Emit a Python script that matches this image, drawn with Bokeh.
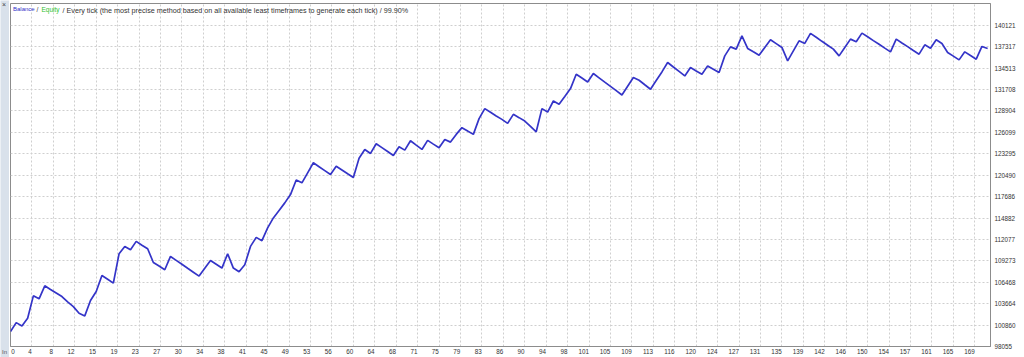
from bokeh.plotting import figure
from bokeh.models import Range1d, FixedTicker, Label
from bokeh.layouts import row, column
from bokeh.embed import file_html
from bokeh.resources import INLINE
from bokeh.core.properties import value

# ---------------- data ----------------
trades = list(range(172))
balance = [
    100000, 101182, 100749, 101760, 104689, 104295, 106003, 105530, 105070, 104597,
    103901, 103284, 102417, 102062, 104072, 105254, 107356, 106856, 106357, 110206,
    111165, 110731, 111822, 111323, 110863, 109063, 108590, 108104, 109851, 109339,
    108827, 108301, 107789, 107277, 108301, 109326, 108827, 108328, 110206, 108328,
    107842, 108761, 111165, 112347, 111913, 113582, 114895, 115880, 116865, 117955,
    119860, 119492, 120806, 122119, 121607, 121095, 120582, 121673, 121174, 120675,
    120189, 122709, 123866, 123341, 124615, 124102, 123590, 123078, 124220, 123774,
    125009, 124431, 123866, 125048, 124562, 124090, 125180, 124825, 125837, 126716,
    126270, 125837, 127899, 129213, 128727, 128241, 127802, 127281, 128463, 128030,
    127584, 126888, 126178, 129213, 128766, 130210, 129779, 130802, 131839, 133718,
    133218, 132706, 133809, 133245, 132680, 132128, 131563, 130999, 132141, 133284,
    132929, 132338, 131748, 132890, 134020, 135254, 134663, 134085, 133494, 134598,
    134151, 133717, 134808, 134375, 133941, 136121, 137303, 137001, 138748, 137093,
    136647, 136213, 137225, 138223, 137724, 137225, 135465, 136778, 138092, 137750,
    139064, 138551, 138026, 137514, 137001, 136121, 137225, 138315, 137960, 139103,
    138617, 138118, 137632, 137132, 136647, 138315, 137816, 137330, 136830, 136344,
    137566, 137132, 138223, 137750, 136568, 136083, 135596, 136647, 136161, 135688,
    137356, 137093,
]

x_tick_labels = ["0", "4", "8", "12", "15", "19", "23", "27", "30", "34", "38", "41",
                 "45", "49", "53", "56", "60", "64", "68", "71", "75", "79", "83", "86",
                 "90", "94", "98", "101", "105", "109", "113", "116", "120", "124", "127",
                 "131", "135", "139", "142", "146", "150", "154", "157", "161", "165", "169"]
x_tick_step = 3.75

y_tick_labels = ["98055", "100860", "103664", "106468", "109273", "112077", "114882",
                 "117686", "120490", "123295", "126099", "128904", "131708", "134513",
                 "137317", "140121"]

title_parts = ["Balance", "/", "Equity",
               "/ Every tick (the most precise method based on all available least timeframes to generate each tick) / 99.90%"]
title_colors = ["#3030c8", "#444444", "#2fbf2f", "#333333"]
title_offsets = [2.5, 26, 31, 52]
title_sizes = ["6px", "6.8px", "6.5px", "7.2px"]

# ---------------- styling constants ----------------
FONT = "Liberation Sans"
X_END = 171.5
Y_START, Y_END = 98055, 142980
PX_PER_TRADE = 980 / X_END

# ---------------- left strip ----------------
strip = figure(width=9, height=357, x_range=Range1d(0, 9), y_range=Range1d(0, 357),
               toolbar_location=None, output_backend="svg",
               x_axis_location=None, y_axis_location=None,
               min_border=0, min_border_left=0, min_border_right=0,
               min_border_top=0, min_border_bottom=0)
strip.grid.visible = False
strip.outline_line_color = None
strip.background_fill_color = "#d9e1eb"
strip.border_fill_color = "#d9e1eb"
strip.text(x=[1.5], y=[357], text=["×"], text_font=value(FONT),
           text_font_size="7px", text_color="#444444", text_baseline="top")
strip.text(x=[1.5], y=[9], text=["In"], text_font=value(FONT),
           text_font_size="6px", text_color="#555555", text_baseline="top")

# ---------------- thin grey bar on top ----------------
topbar = figure(width=1015, height=2, x_range=Range1d(0, 1), y_range=Range1d(0, 1),
                toolbar_location=None, output_backend="svg",
                x_axis_location=None, y_axis_location=None,
                min_border=0, min_border_left=0, min_border_right=0,
                min_border_top=0, min_border_bottom=0)
topbar.grid.visible = False
topbar.outline_line_color = None
topbar.background_fill_color = "#cdcdcd"
topbar.border_fill_color = "#cdcdcd"

# ---------------- main chart ----------------
p = figure(width=1015, height=355,
           x_range=Range1d(0, X_END), y_range=Range1d(Y_START, Y_END),
           y_axis_location="right", toolbar_location=None, output_backend="svg",
           min_border_left=1, min_border_right=34, min_border_top=1, min_border_bottom=11)
p.background_fill_color = "white"
p.border_fill_color = "white"
p.outline_line_color = "#8c8c8c"
p.outline_line_width = 1

# gridlines
grid_x = [k * x_tick_step for k in range(1, len(x_tick_labels))]
p.xgrid.ticker = FixedTicker(ticks=grid_x, minor_ticks=[])
y_vals = [float(s) for s in y_tick_labels]
p.ygrid.ticker = FixedTicker(ticks=y_vals[1:], minor_ticks=[])
for g in (p.xgrid, p.ygrid):
    g.grid_line_color = "#cfcfcf"
    g.grid_line_dash = "2 2"
    g.grid_line_width = 1

# x axis: labels sit just left of their gridline (right-aligned to it)
x_label_pos = []
x_overrides = {}
for k, s in enumerate(x_tick_labels):
    if k == 0:
        pos = 2.5 / PX_PER_TRADE
    else:
        pos = k * x_tick_step - (len(s) * 3.4 / 2 + 0.3) / PX_PER_TRADE
    pos = round(pos, 4)
    x_label_pos.append(pos)
    x_overrides[pos] = s
p.xaxis.ticker = FixedTicker(ticks=x_label_pos, minor_ticks=[])
p.xaxis.major_label_overrides = x_overrides

p.yaxis.ticker = FixedTicker(ticks=y_vals, minor_ticks=[])
p.yaxis.major_label_overrides = {v: s for v, s in zip(y_vals, y_tick_labels)}

for ax in (p.xaxis, p.yaxis):
    ax.axis_line_color = "#8c8c8c"
    ax.major_tick_line_color = None
    ax.minor_tick_line_color = None
    ax.major_tick_out = 0
    ax.major_tick_in = 0
    ax.major_label_text_font = FONT
    ax.major_label_text_font_size = "6.3px"
    ax.major_label_text_color = "#333333"
p.xaxis.major_label_standoff = 2
p.yaxis.major_label_standoff = 4

# balance line
p.line(trades, balance, line_color="#3434c8", line_width=1.7)

# title
for txt, col, off, sz in zip(title_parts, title_colors, title_offsets, title_sizes):
    p.add_layout(Label(x=0, y=Y_END, x_offset=off, y_offset=-2.5, text=txt,
                       text_baseline="top", text_font=FONT, text_font_size=sz,
                       text_color=col))

layout = row(strip, column(topbar, p))
open("out.html", "w").write(file_html(layout, INLINE))
